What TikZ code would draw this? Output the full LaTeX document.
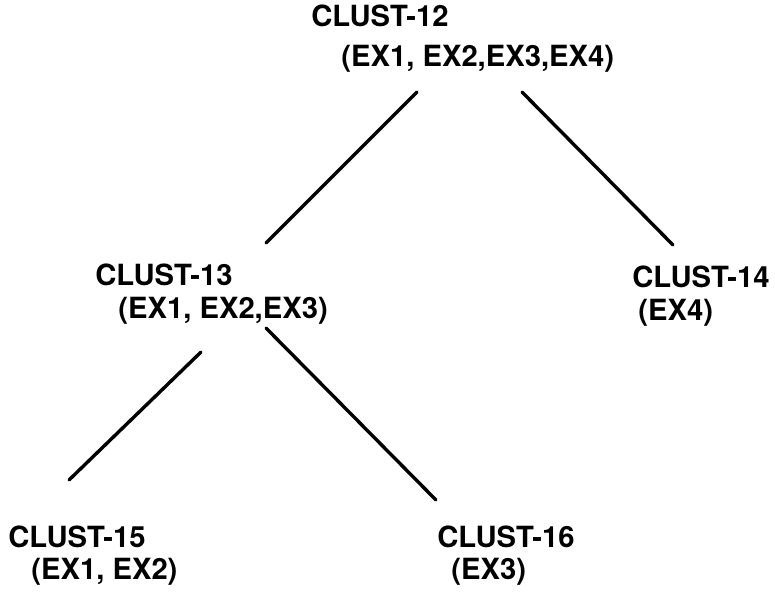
\documentclass[tikz,border=0pt]{standalone}
\usepackage{fontspec}
\setmainfont{TeX Gyre Heros}
\usepackage{tikz}

\tikzset{
  clust/.style={anchor=base west, inner sep=0pt, font=\fontsize{14.6}{16}\selectfont\bfseries},
  branch/.style={line width=1.7pt, line cap=round}
}

\begin{document}
\begin{tikzpicture}[x=0.5pt, y=-0.5pt]
            \useasboundingbox (0,0) rectangle (775,591);
            % cluster names and their members
            \node [clust] (c12) at (311,26) {CLUST-12};
            \node [clust] (m12) at (341,66) {(EX1, EX2,EX3,EX4)};
            \node [clust] (c13) at (95,285) {CLUST-13};
            \node [clust] (m13) at (118,318) {(EX1, EX2,EX3)};
            \node [clust] (c14) at (632,287) {CLUST-14};
            \node [clust] (m14) at (638,320) {(EX4)};
            \node [clust] (c15) at (8,547) {CLUST-15};
            \node [clust] (m15) at (31,579) {(EX1, EX2)};
            \node [clust] (c16) at (437,547) {CLUST-16};
            \node [clust] (m16) at (451,579) {(EX3)};
            % branch ends
            \coordinate (t13) at (417,92);
            \coordinate (b13) at (266,243);
            \coordinate (t14) at (522,92);
            \coordinate (b14) at (673,245);
            \coordinate (t15) at (201,352);
            \coordinate (b15) at (69,480);
            \coordinate (t16) at (266,328);
            \coordinate (b16) at (436,500);
            \draw [branch] (t13) -- (b13);
            \draw [branch] (t14) -- (b14);
            \draw [branch] (t15) -- (b15);
            \draw [branch] (t16) -- (b16);
        \end{tikzpicture}
\end{document}
